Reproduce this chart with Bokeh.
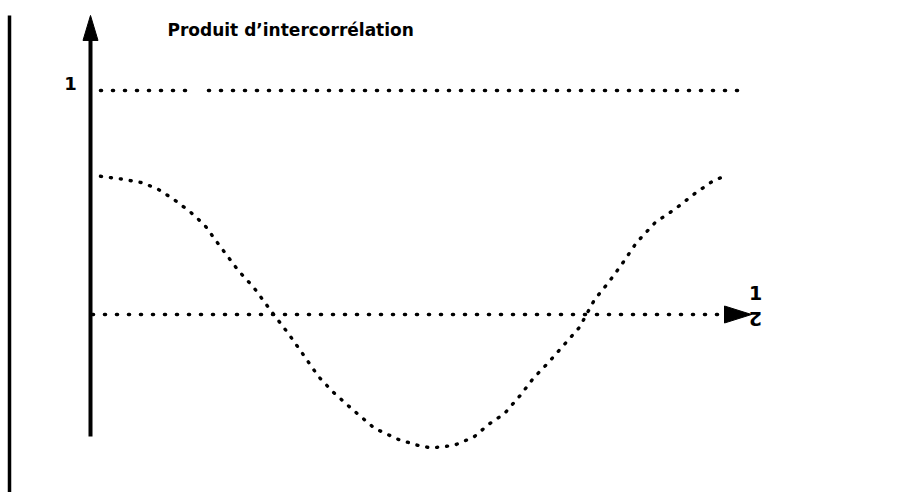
from bokeh.plotting import figure
from bokeh.models import Range1d
from bokeh.embed import file_html
from bokeh.resources import INLINE
from bokeh.core.properties import value

# ---- data ----
title_text = "Produit d’intercorrélation"
y_tick_label = "1"
tau_label_top = "1"
tau_label_bottom = "2"

tau = [0.10, 0.32, 0.51, 0.67, 0.83, 1.00, 1.14, 1.26, 1.48, 1.63, 1.81, 1.98,
       2.11, 2.28, 2.42, 2.62, 2.84, 3.08, 3.31, 3.42, 3.63, 3.83, 3.98, 4.14,
       4.30, 4.43, 4.58, 4.74, 4.89, 5.04, 5.18, 5.31, 5.46, 5.65, 5.85, 6.04,
       6.24, 6.35]
corr = [0.617, 0.604, 0.589, 0.561, 0.515, 0.457, 0.400, 0.326, 0.195, 0.122,
        0.013, -0.086, -0.168, -0.277, -0.344, -0.424, -0.508, -0.558, -0.589,
        -0.595, -0.585, -0.548, -0.491, -0.442, -0.360, -0.284, -0.214, -0.133,
        -0.057, 0.066, 0.143, 0.222, 0.321, 0.412, 0.472, 0.539, 0.601, 0.617]

ref_level = 1.0
ref_seg1 = [0.10, 0.95]
ref_seg2 = [1.18, 6.50]

# ---- layout (pixel scale of data units) ----
W, H = 883, 492
SX, SY = 100.0, 224.0   # px per data unit
x0 = -0.90
y1 = 314.0 / SY
x1 = x0 + W / SX
y0 = y1 - H / SY

p = figure(width=W, height=H, output_backend="svg", toolbar_location=None,
           x_range=Range1d(x0, x1), y_range=Range1d(y0, y1),
           min_border=0, outline_line_color=None)
p.axis.visible = False
p.grid.visible = False
p.background_fill_color = "white"
p.border_fill_color = "white"

ink = "#000000"

# left frame line
p.segment(x0=[-0.81], y0=[1.335], x1=[-0.81], y1=[y0], line_color=ink, line_width=3.5)

# vertical axis with arrow head
y_axis_top = 1.335
p.segment(x0=[0], y0=[-0.545], x1=[0], y1=[y_axis_top - 10 / SY], line_color=ink, line_width=4)
p.patch(x=[0, -7.5 / SX, 7.5 / SX], y=[y_axis_top, y_axis_top - 25 / SY, y_axis_top - 25 / SY],
        color=ink)

# horizontal tau axis (dotted) with arrow head
tau_axis_end = 6.61
p.line(x=[0.02, tau_axis_end - 25 / SX], y=[0, 0], line_color=ink, line_width=3.6,
       line_dash="1 11", line_cap="round")
p.patch(x=[tau_axis_end, tau_axis_end - 27 / SX, tau_axis_end - 27 / SX],
        y=[0, 8.5 / SY, -8.5 / SY], color=ink)

# reference level 1 (dotted, with gap)
for seg in (ref_seg1, ref_seg2):
    p.line(x=seg, y=[ref_level, ref_level], line_color=ink, line_width=3.6,
           line_dash="1 11", line_cap="round")

# correlation curve (dotted)
p.line(x=tau, y=corr, line_color=ink, line_width=3.4, line_dash="1 9", line_cap="round")

# texts
font = value("DejaVu Sans")
p.text(x=[0.77], y=[1.272], text=[title_text], text_font=font,
       text_font_style="bold", text_font_size="17px", text_baseline="middle",
       text_align="left", text_color=ink)
p.text(x=[-0.20], y=[1.031], text=[y_tick_label], text_font=font,
       text_font_style="bold", text_font_size="18px", text_baseline="middle",
       text_align="center", text_color=ink)
p.text(x=[6.65], y=[0.094], text=[tau_label_top], text_font=font,
       text_font_style="bold", text_font_size="19px", text_baseline="middle",
       text_align="center", text_color=ink)
p.text(x=[6.65], y=[-0.022], text=[tau_label_bottom], text_font=font,
       text_font_style="bold", text_font_size="19px", text_baseline="middle",
       text_align="center", text_color=ink, angle=3.14159265)

open("out.html", "w").write(file_html(p, INLINE))
